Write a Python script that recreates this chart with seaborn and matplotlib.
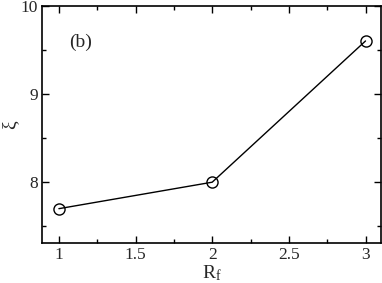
import matplotlib
matplotlib.use('Agg')
import matplotlib.pyplot as plt
import seaborn as sns
import pandas as pd
from matplotlib.ticker import MultipleLocator

r_f = [1, 2, 3]
xi = [7.7, 8.0, 9.6]

sns.set_style('ticks')
plt.rcParams['font.family'] = ['Liberation Serif', 'DejaVu Serif']
plt.rcParams['mathtext.fontset'] = 'custom'
plt.rcParams['mathtext.rm'] = 'Liberation Serif'
plt.rcParams['mathtext.it'] = 'Liberation Serif:italic'

df = pd.DataFrame({'R_f': r_f, 'xi': xi})

fig = plt.figure(figsize=(3.82, 2.83), dpi=100)
ax = fig.add_axes([0.110, 0.141, 0.887, 0.839])
sns.lineplot(data=df, x='R_f', y='xi', ax=ax, color='black', linewidth=1,
             marker='o', markersize=8, markerfacecolor='none',
             markeredgecolor='black', markeredgewidth=1)

ax.set_xlim(0.89, 3.1)
ax.set_ylim(7.31, 10)
ax.xaxis.set_minor_locator(MultipleLocator(0.25))
ax.yaxis.set_major_locator(MultipleLocator(1))
ax.yaxis.set_minor_locator(MultipleLocator(0.5))
ax.set_xticks([1, 1.5, 2, 2.5, 3])
ax.set_xticklabels(['1', '1.5', '2', '2.5', '3'])
ax.tick_params(which='both', direction='in', top=True, right=True, labelsize=12.5, width=1, color='black')
ax.tick_params(which='major', length=5, pad=3)
ax.tick_params(which='minor', length=3)
for s in ax.spines.values():
    s.set_linewidth(1.2)
    s.set_color('black')

ax.set_xlabel(r'R$_\mathrm{f}$', fontsize=14, labelpad=0)
ax.set_ylabel('ξ', fontsize=14)
ax.yaxis.set_label_coords(-0.07, 0.5)
ax.text(1.14, 9.58, '(b)', fontsize=14, ha='center', va='center')

fig.savefig('out.png', dpi=100)
